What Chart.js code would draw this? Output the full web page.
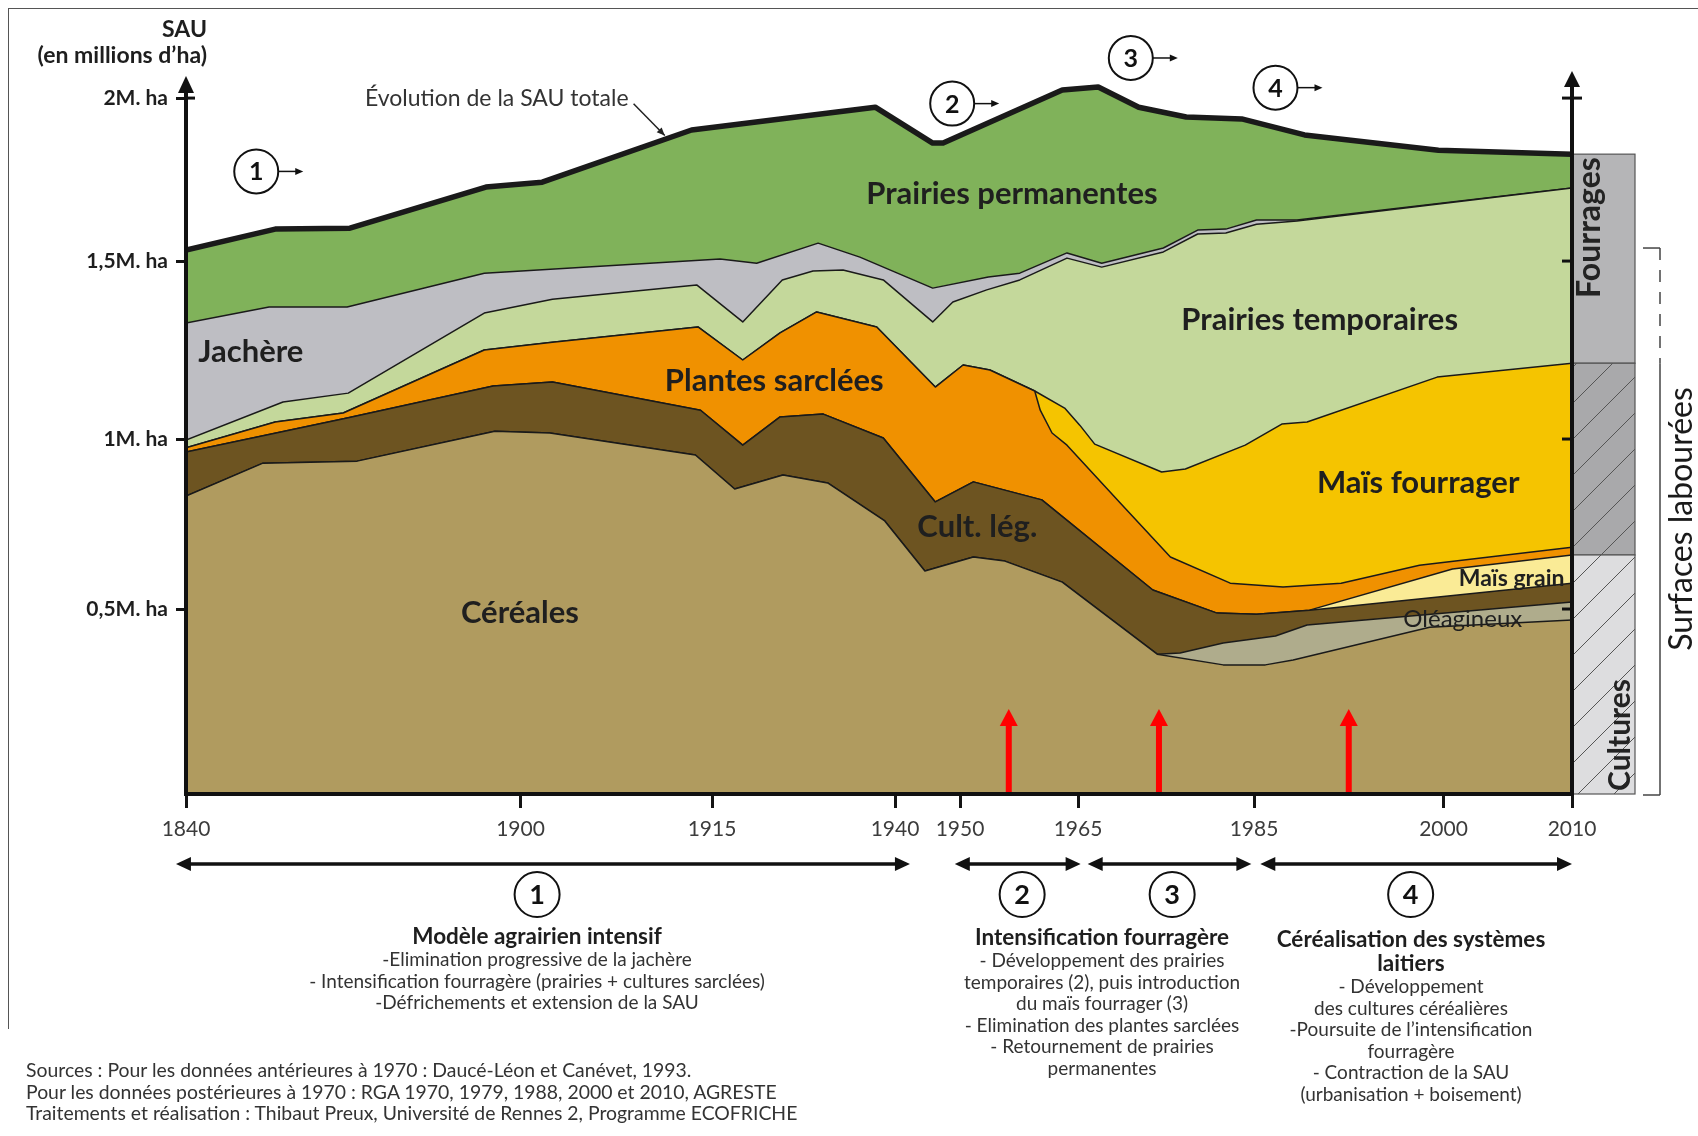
<!DOCTYPE html>
<html lang="fr">
<head>
<meta charset="utf-8">
<title>Évolution de la SAU et de ses composantes, 1840-2010</title>
<script src="https://cdn.jsdelivr.net/npm/chart.js@4.4.1/dist/chart.umd.min.js"></script>
<style>
  html, body { margin: 0; padding: 0; background: #fff; }
  body {
    width: 1698px; height: 1136px; position: relative; overflow: hidden;
    font-family: Lato, "DejaVu Sans", sans-serif; color: #2b2b2b;
  }
  #frame {
    position: absolute; left: 8px; top: 8px; width: 1700px; height: 1020px;
    border-top: 1.5px solid #555; border-left: 1.5px solid #555;
  }
  #chart { position: absolute; left: 0; top: 0; }
  #unit {
    position: absolute; right: 1491px; top: 15px; text-align: right;
    font-weight: bold; font-size: 23px; line-height: 26px; color: #1e1e1e; white-space: nowrap;
  }
  .period {
    position: absolute; transform: translateX(-50%); text-align: center; white-space: nowrap;
    font-size: 19px; line-height: 21.5px; color: #333;
  }
  .period b { display: block; font-size: 22.5px; line-height: 24px; color: #1e1e1e; }
  #sources {
    position: absolute; left: 26px; top: 1059px; white-space: nowrap;
    font-size: 19.4px; line-height: 21.5px; color: #333;
  }
</style>
</head>
<body>
<div id="frame"></div>
<canvas id="chart" width="1698" height="1136"></canvas>

<div id="unit">SAU<br>(en millions d’ha)</div>

<div class="period" style="left:537px; top:924px;">
  <b>Modèle agrairien intensif</b>
  -Elimination progressive de la jachère<br>
  - Intensification fourragère (prairies + cultures sarclées)<br>
  -Défrichements et extension de la SAU
</div>
<div class="period" style="left:1102px; top:925px;">
  <b>Intensification fourragère</b>
  - Développement des prairies<br>
  temporaires (2), puis introduction<br>
  du maïs fourrager (3)<br>
  - Elimination des plantes sarclées<br>
  - Retournement de prairies<br>
  permanentes
</div>
<div class="period" style="left:1411px; top:927px;">
  <b>Céréalisation des systèmes<br>laitiers</b>
  - Développement<br>
  des cultures céréalières<br>
  -Poursuite de l’intensification<br>
  fourragère<br>
  - Contraction de la SAU<br>
  (urbanisation + boisement)
</div>

<div id="sources">
  Sources : Pour les données antérieures à 1970 : Daucé-Léon et Canévet, 1993.<br>
  Pour les données postérieures à 1970 : RGA 1970, 1979, 1988, 2000 et 2010, AGRESTE<br>
  Traitements et réalisation : Thibaut Preux, Université de Rennes 2, Programme ECOFRICHE
</div>

<script>
// Axis ticks
const xTickYears = [1840, 1900, 1915, 1940, 1950, 1965, 1985, 2000, 2010];
const yTickValues = [0.5, 1, 1.5, 2];
const yTickLabels = ['0,5M. ha', '1M. ha', '1,5M. ha', '2M. ha'];

// Upper edge of each stacked layer (year, millions d'ha)
const layerNames = ['Céréales', 'Oléagineux', 'Cult. lég.', 'Maïs grain', 'Plantes sarclées',
  'Maïs fourrager', 'Prairies temporaires', 'Jachère', 'Prairies permanentes'];

const cereales = [[1840, 0.832], [1853.8, 0.929], [1870.7, 0.935], [1895.4, 1.022], [1902.3, 1.017],
  [1913.7, 0.953], [1918.1, 0.853], [1924.7, 0.894], [1930.8, 0.871], [1938.6, 0.759], [1944.6, 0.612],
  [1951.7, 0.653], [1955.7, 0.641], [1963.0, 0.579], [1974.0, 0.378], [1981.5, 0.349], [1985.9, 0.349],
  [1988.1, 0.362], [1998.9, 0.451], [2010, 0.470]];

// only present from the mid 1970s, sits on the cereals
const oleagineux = [[1974.0, 0.378], [1976.6, 0.381], [1981.5, 0.408], [1986.7, 0.427], [1989.2, 0.457],
  [2010, 0.521]];

const cultLeg = [[1840, 0.962], [1868.9, 1.059], [1895.1, 1.149], [1902.5, 1.160], [1914.1, 1.081],
  [1919.2, 0.982], [1924.3, 1.062], [1930.2, 1.070], [1938.4, 1.003], [1946.2, 0.815], [1951.7, 0.874],
  [1960.4, 0.821], [1973.5, 0.556], [1980.8, 0.489], [1985.2, 0.486], [1989.4, 0.497], [2010, 0.576]];

// only present from the late 1980s
const maisGrain = [[1989.4, 0.497], [2000.7, 0.618], [2010, 0.659]];

const plantesSarclees = [[1840, 0.974], [1856.0, 1.048], [1868.2, 1.073], [1893.5, 1.250], [1902.5, 1.272],
  [1913.9, 1.315], [1919.2, 1.222], [1924.3, 1.298], [1929.3, 1.357], [1937.5, 1.315], [1946.2, 1.146],
  [1950.4, 1.208], [1953.8, 1.194], [1959.5, 1.135], [1960.2, 1.081], [1961.7, 1.017], [1963.6, 0.982],
  [1969.8, 0.812], [1975.5, 0.653], [1982.3, 0.576], [1987.3, 0.565], [1991.9, 0.576], [1998.1, 0.629],
  [2010, 0.682]];

// only present from the late 1950s
const maisFourrager = [[1959.5, 1.135], [1963.3, 1.087], [1965.2, 1.039], [1966.9, 0.985], [1974.5, 0.903],
  [1977.2, 0.912], [1984.0, 0.982], [1987.2, 1.042], [1989.2, 1.048], [1999.5, 1.174], [2010, 1.213]];

const prairiesTemp = [[1840, 0.997], [1857.4, 1.104], [1869.1, 1.129], [1893.5, 1.354], [1902.5, 1.393],
  [1913.8, 1.433], [1919.2, 1.329], [1924.6, 1.447], [1928.8, 1.472], [1932.9, 1.475], [1938.4, 1.447],
  [1945.8, 1.329], [1948.9, 1.385], [1953.4, 1.419], [1957.6, 1.447], [1963.6, 1.509], [1967.7, 1.483],
  [1974.7, 1.528], [1978.6, 1.583], [1981.8, 1.586], [1985.2, 1.613], [1988.4, 1.623], [2010, 1.724]];

const jachere = [[1840, 1.326], [1854.9, 1.371], [1868.9, 1.371], [1893.5, 1.466], [1916.1, 1.506],
  [1921.1, 1.494], [1929.5, 1.555], [1935.2, 1.512], [1945.8, 1.424], [1953.6, 1.455], [1957.6, 1.466],
  [1963.6, 1.525], [1967.7, 1.494], [1974.7, 1.540], [1978.6, 1.595], [1981.8, 1.598], [1985.2, 1.626],
  [1988.4, 1.626], [2010, 1.724]];

// SAU totale = top of the permanent grassland
const sauTotale = [[1840, 1.534], [1856.0, 1.598], [1869.4, 1.601], [1893.8, 1.727], [1901.7, 1.742],
  [1913.4, 1.902], [1937.3, 1.972], [1945.8, 1.862], [1947.4, 1.862], [1963.0, 2.025], [1967.3, 2.034],
  [1971.9, 1.972], [1977.3, 1.942], [1983.6, 1.936], [1989.0, 1.887], [1999.6, 1.840], [2010, 1.828]];

// Periods shown under the axis
const periodSpans = [[1838.2, 1942.3], [1949.2, 1965.3], [1966.1, 1984.7], [1985.5, 2010]];
const periodCentres = [1901.3, 1957.9, 1975.7, 1997.4];
const redArrowYears = [1956.2, 1974.2, 1992.5];

// ---------------------------------------------------------------------------

const layerColors = ['#b09b5f', '#afac8c', '#6d5421', '#faeb96', '#f09100', '#f5c400', '#c4d89b', '#bebec3', '#80b25a'];

// The time axis (and, slightly, the area axis) of the figure is not linear:
// each labelled value sits at its own distance along the axis.
const axisStops = {
  x: { values: xTickYears, positions: [0, 334.5, 526, 709, 774, 892, 1068, 1257.5, 1386] },
  y: { values: [0, 0.5, 1, 1.5, 2], positions: [0, 185, 355, 533, 696] }
};

function warp(stops, v, from, to) {
  const a = stops[from], p = stops[to];
  let i = 1;
  while (i < a.length - 1 && v > a[i]) i++;
  return p[i - 1] + (v - a[i - 1]) * (p[i] - p[i - 1]) / (a[i] - a[i - 1]);
}

class PiecewiseScale extends Chart.LinearScale {
  static id = 'piecewise';
  static defaults = {};

  buildTicks() {
    const vals = this.axis === 'x' ? xTickYears : yTickValues;
    return vals.map(value => ({ value }));
  }
  getPixelForValue(value) {
    const s = axisStops[this.axis];
    const lo = warp(s, this.min, 'values', 'positions');
    const hi = warp(s, this.max, 'values', 'positions');
    return this.getPixelForDecimal((warp(s, value, 'values', 'positions') - lo) / (hi - lo));
  }
  getValueForPixel(pixel) {
    const s = axisStops[this.axis];
    const lo = warp(s, this.min, 'values', 'positions');
    const hi = warp(s, this.max, 'values', 'positions');
    return warp(s, lo + this.getDecimalForPixel(pixel) * (hi - lo), 'positions', 'values');
  }
}
Chart.register(PiecewiseScale);

// layers that appear late start on top of the layer below them
const fromBase = (below, own) => below.filter(p => p[0] < own[0][0]).concat(own);
const tops = [
  cereales,
  fromBase(cereales, oleagineux),
  cultLeg,
  fromBase(cultLeg, maisGrain),
  plantesSarclees,
  fromBase(plantesSarclees, maisFourrager),
  prairiesTemp,
  jachere,
  sauTotale
];
const last = arr => arr[arr.length - 1][1];

const FONT = 'Lato, "DejaVu Sans", sans-serif';
const font = (weight, size) => `${weight} ${size}px ${FONT}`;

const layerLabels = [
  { text: 'Prairies permanentes', at: [1956.6, 1.706] },
  { text: 'Jachère', at: [1842.2, 1.244], align: 'left' },
  { text: 'Prairies temporaires', at: [1990.2, 1.334] },
  { text: 'Plantes sarclées', at: [1923.5, 1.163] },
  { text: 'Maïs fourrager', at: [1998.0, 0.871] },
  { text: 'Cult. lég.', at: [1952.2, 0.741] },
  { text: 'Céréales', at: [1899.9, 0.489] },
  { text: 'Maïs grain', at: [2005.3, 0.591], size: 23 },
  { text: 'Oléagineux', at: [2001.5, 0.473], size: 24, weight: 'normal' }
];
const topMarks = [[1852.6, 1.775], [1948.8, 1.983], [1971.0, 2.123], [1986.7, 2.032]];

function head(ctx, x, y, dx, dy, len, half) {
  const n = Math.hypot(dx, dy), ux = dx / n, uy = dy / n;
  const bx = x - ux * len, by = y - uy * len;
  ctx.beginPath();
  ctx.moveTo(x, y);
  ctx.lineTo(bx - uy * half, by + ux * half);
  ctx.lineTo(bx + uy * half, by - ux * half);
  ctx.closePath();
  ctx.fill();
}
function seg(ctx, x1, y1, x2, y2) {
  ctx.beginPath(); ctx.moveTo(x1, y1); ctx.lineTo(x2, y2); ctx.stroke();
}
function circled(ctx, x, y, r, txt, size) {
  ctx.lineWidth = 2;
  ctx.beginPath(); ctx.arc(x, y, r, 0, Math.PI * 2); ctx.fillStyle = '#fff'; ctx.fill(); ctx.stroke();
  ctx.fillStyle = '#111';
  ctx.font = font('bold', size);
  ctx.textAlign = 'center'; ctx.textBaseline = 'middle';
  ctx.fillText(txt, x, y + 1);
}

const decorations = {
  id: 'decorations',
  afterDatasetsDraw(chart) {
    const ctx = chart.ctx;
    const X = v => chart.scales.x.getPixelForValue(v);
    const Y = v => chart.scales.y.getPixelForValue(v);
    const x0 = X(1840), x1 = X(2010), y0 = Y(0);
    ctx.save();

    // layer names
    ctx.fillStyle = '#1f1f1f';
    ctx.textBaseline = 'middle';
    layerLabels.forEach(l => {
      ctx.font = font(l.weight || 'bold', l.size || 31);
      ctx.textAlign = l.align || 'center';
      ctx.fillText(l.text, X(l.at[0]), Y(l.at[1]));
    });

    // total SAU caption with its leader
    ctx.font = font('normal', 23);
    ctx.fillStyle = '#333';
    ctx.textAlign = 'left';
    const cx = X(1872.1), cy = Y(1.998);
    ctx.fillText('Évolution de la SAU totale', cx, cy);
    const w = ctx.measureText('Évolution de la SAU totale').width;
    ctx.strokeStyle = '#222'; ctx.fillStyle = '#222'; ctx.lineWidth = 1.5;
    const ex = X(1911.3), ey = Y(1.885);
    seg(ctx, cx + w + 5, cy + 5, ex, ey);
    head(ctx, ex, ey, ex - (cx + w + 5), ey - (cy + 5), 8, 3.5);

    // red arrows
    ctx.fillStyle = '#ff0000';
    redArrowYears.forEach(yr => {
      const ax = X(yr), tip = Y(0.23);
      ctx.fillRect(ax - 3, tip + 15, 6, y0 - tip - 15);
      head(ctx, ax, tip, 0, -1, 17, 9);
    });

    // stacked bar at 2010: fourrages / surfaces labourées / cultures
    const bx0 = x1, bx1 = x1 + 63;
    const bands = [
      [last(sauTotale), last(maisFourrager), '#b5b5b7', false],
      [last(maisFourrager), last(maisGrain), '#a9a9ab', true],
      [last(maisGrain), 0, '#dddddf', true]
    ];
    bands.forEach(([hi, lo, col, hatch]) => {
      const ya = Y(hi), yb = Y(lo);
      ctx.fillStyle = col;
      ctx.fillRect(bx0, ya, bx1 - bx0, yb - ya);
      if (hatch) {
        ctx.save();
        ctx.beginPath(); ctx.rect(bx0, ya, bx1 - bx0, yb - ya); ctx.clip();
        ctx.strokeStyle = '#555'; ctx.lineWidth = 1;
        for (let c = 1400; c < 2500; c += 36) seg(ctx, bx0 - 5, c - bx0 + 5, bx1 + 5, c - bx1 - 5);
        ctx.restore();
      }
      ctx.strokeStyle = '#555'; ctx.lineWidth = 1.2;
      ctx.strokeRect(bx0, ya, bx1 - bx0, yb - ya);
    });
    ctx.fillStyle = '#232323';
    ctx.textBaseline = 'alphabetic';
    ctx.font = font('bold', 32);
    ctx.save(); ctx.translate(bx0 + 28, Y(last(sauTotale)) + 3); ctx.rotate(-Math.PI / 2);
    ctx.textAlign = 'right'; ctx.fillText('Fourrages', 0, 0); ctx.restore();
    ctx.font = font('bold', 30);
    ctx.save(); ctx.translate(bx0 + 58, y0 - 3); ctx.rotate(-Math.PI / 2);
    ctx.textAlign = 'left'; ctx.fillText('Cultures', 0, 0); ctx.restore();

    // bracket for tilled land
    ctx.strokeStyle = '#444'; ctx.lineWidth = 1.5;
    const kx = bx1 + 25, kTop = Y(1.54), kMid = Y(last(maisFourrager));
    seg(ctx, kx - 17, kTop, kx, kTop);
    ctx.setLineDash([12, 10]); seg(ctx, kx, kTop, kx, kMid); ctx.setLineDash([]);
    seg(ctx, kx, kMid, kx, y0 + 1);
    seg(ctx, kx - 17, y0 + 1, kx, y0 + 1);
    ctx.save(); ctx.translate(kx + 22, Y(0.765)); ctx.rotate(-Math.PI / 2);
    ctx.fillStyle = '#1a1a1a'; ctx.font = font('normal', 32);
    ctx.textAlign = 'center'; ctx.textBaseline = 'middle';
    ctx.fillText('Surfaces labourées', 0, 0); ctx.restore();

    // axes with arrow heads
    ctx.strokeStyle = '#111'; ctx.fillStyle = '#111'; ctx.lineWidth = 4;
    seg(ctx, x0 - 2, y0, x1 + 2, y0);
    seg(ctx, x0, y0 + 2, x0, 88);
    head(ctx, x0, 76, 0, -1, 17, 8);
    seg(ctx, x1, y0 + 2, x1, 84);
    head(ctx, x1, 71, 0, -1, 16, 8);
    ctx.lineWidth = 3;
    yTickValues.forEach(v => seg(ctx, x1 - 10, Y(v), x1, Y(v)));
    seg(ctx, x0, Y(2), x0 + 9, Y(2));
    seg(ctx, x1, Y(2), x1 + 10, Y(2));

    // period markers above the curve
    ctx.strokeStyle = '#111';
    topMarks.forEach(([yr, v], i) => {
      const mx = X(yr), my = Y(v);
      circled(ctx, mx, my, 22, String(i + 1), 25);
      ctx.strokeStyle = '#111'; ctx.lineWidth = 1.5;
      seg(ctx, mx + 22, my, mx + 42, my);
      head(ctx, mx + 47, my, 1, 0, 8, 3.5);
    });

    // periods under the axis
    const ya = y0 + 70, yc = y0 + 100.5;
    ctx.lineWidth = 3.5;
    periodSpans.forEach(([a, b]) => {
      const xa = X(a), xb = X(b);
      seg(ctx, xa + 8, ya, xb - 8, ya);
      head(ctx, xa, ya, -1, 0, 15, 7);
      head(ctx, xb, ya, 1, 0, 15, 7);
    });
    periodCentres.forEach((yr, i) => circled(ctx, X(yr), yc, 22.5, String(i + 1), 27));

    ctx.restore();
  }
};

new Chart(document.getElementById('chart'), {
  type: 'line',
  data: {
    datasets: tops.map((pts, i) => ({
      label: layerNames[i],
      data: pts.map(([x, y]) => ({ x, y })),
      fill: i === 0 ? 'origin' : '-1',
      backgroundColor: layerColors[i],
      borderColor: '#1a1a1a',
      borderWidth: i === tops.length - 1 ? 5.5 : 1.5,
      borderJoinStyle: 'round',
      pointRadius: 0,
      tension: 0
    }))
  },
  options: {
    responsive: false,
    devicePixelRatio: 1,
    animation: false,
    events: [],
    layout: { padding: { left: 0, right: 126, top: 72, bottom: 282 } },
    plugins: { legend: { display: false }, tooltip: { enabled: false } },
    scales: {
      x: {
        type: 'piecewise', min: 1840, max: 2010,
        border: { display: false },
        grid: { drawOnChartArea: false, drawTicks: true, tickLength: 14, lineWidth: 3, color: '#141414' },
        ticks: {
          autoSkip: false, maxRotation: 0, minRotation: 0, padding: 9, color: '#3c3c3c',
          font: { family: FONT, size: 21 }, callback: v => String(v)
        },
        afterFit: s => { s.height = 60; }
      },
      y: {
        type: 'piecewise', min: 0, max: 2.08,
        border: { display: false },
        grid: { drawOnChartArea: false, drawTicks: true, tickLength: 10, lineWidth: 3, color: '#141414' },
        ticks: {
          autoSkip: false, padding: 8, color: '#1e1e1e',
          font: { family: FONT, size: 21, weight: 'bold' }, callback: (v, i) => yTickLabels[i]
        },
        afterFit: s => { s.width = 186; }
      }
    }
  },
  plugins: [decorations]
});
</script>
</body>
</html>
